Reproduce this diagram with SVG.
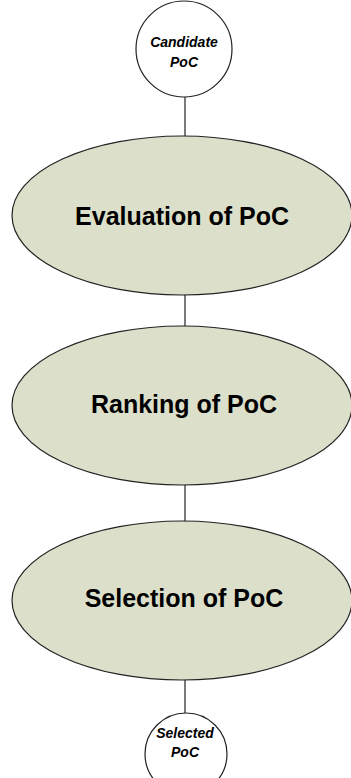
<svg xmlns="http://www.w3.org/2000/svg" width="351" height="778" viewBox="0 0 351 778">
<style>
.proc{fill:#dcdfc9;stroke:#222;stroke-width:1.2}
.term{fill:#fff;stroke:#222;stroke-width:1.2}
.big{font-family:"Liberation Sans",Arial,sans-serif;font-weight:bold;font-size:25px;fill:#000;text-anchor:middle}
.small{font-family:"Liberation Sans",Arial,sans-serif;font-weight:bold;font-style:italic;font-size:14px;fill:#000;text-anchor:middle}
.conn{stroke:#333;stroke-width:1.3;fill:none}
</style>
<rect width="351" height="778" fill="#fff"/>
<g id="connectors">
<line class="conn" x1="185" y1="97" x2="185" y2="136"/>
<line class="conn" x1="185" y1="295" x2="185" y2="326"/>
<line class="conn" x1="185" y1="485" x2="185" y2="521"/>
<line class="conn" x1="185" y1="680" x2="185" y2="713"/>
</g>
<g id="candidate">
<circle class="term" cx="184" cy="49" r="48"/>
<text class="small" x="184" y="47">Candidate</text>
<text class="small" x="184" y="67">PoC</text>
</g>
<g id="evaluation">
<ellipse class="proc" cx="182" cy="215.5" rx="170" ry="79.5"/>
<text class="big" x="182" y="225">Evaluation of PoC</text>
</g>
<g id="ranking">
<ellipse class="proc" cx="182" cy="405.5" rx="170" ry="79.5"/>
<text class="big" x="184" y="413">Ranking of PoC</text>
</g>
<g id="selection">
<ellipse class="proc" cx="182" cy="600.5" rx="170" ry="79.5"/>
<text class="big" x="184" y="607">Selection of PoC</text>
</g>
<g id="selected">
<circle class="term" cx="186" cy="754" r="41"/>
<text class="small" x="185" y="738">Selected</text>
<text class="small" x="185" y="757">PoC</text>
</g>
</svg>
